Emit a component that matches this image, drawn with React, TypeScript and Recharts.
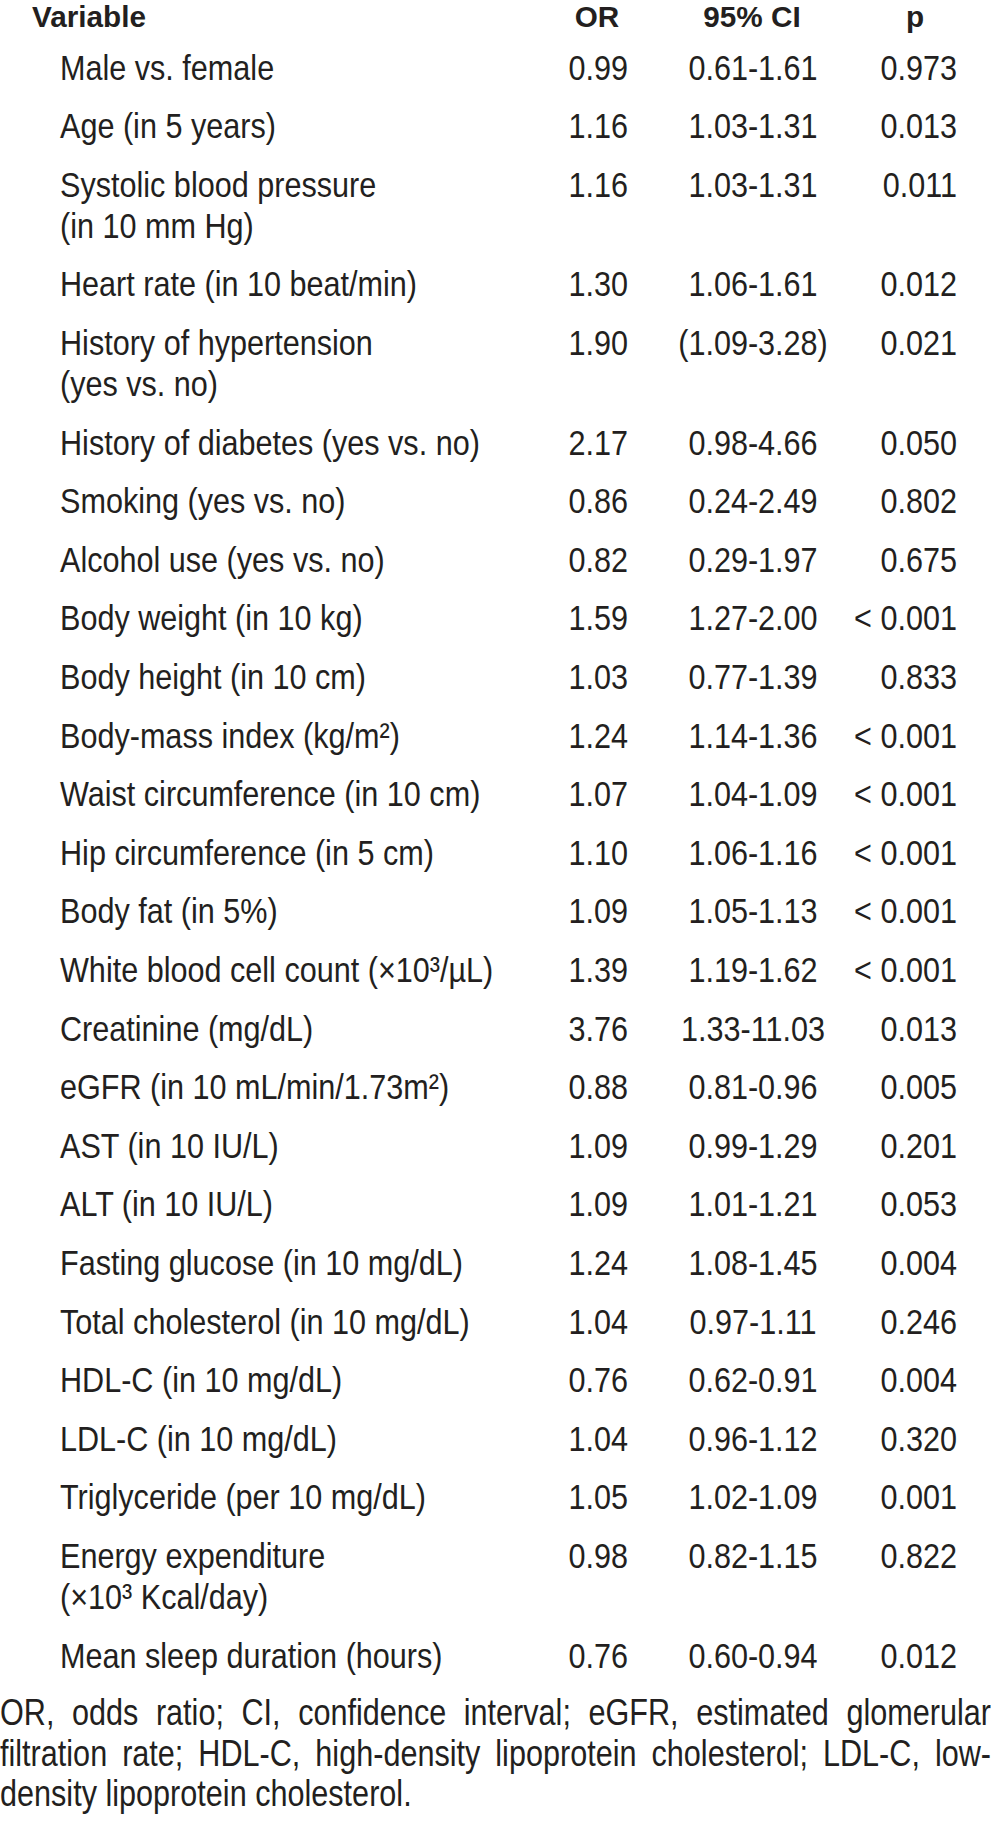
import { ScatterChart, Scatter, XAxis, YAxis } from "recharts";

const variables = [
  "Male vs. female",
  "Age (in 5 years)",
  "Systolic blood pressure\n(in 10 mm Hg)",
  "Heart rate (in 10 beat/min)",
  "History of hypertension\n(yes vs. no)",
  "History of diabetes (yes vs. no)",
  "Smoking (yes vs. no)",
  "Alcohol use (yes vs. no)",
  "Body weight (in 10 kg)",
  "Body height (in 10 cm)",
  "Body-mass index (kg/m²)",
  "Waist circumference (in 10 cm)",
  "Hip circumference (in 5 cm)",
  "Body fat (in 5%)",
  "White blood cell count (×10³/µL)",
  "Creatinine (mg/dL)",
  "eGFR (in 10 mL/min/1.73m²)",
  "AST (in 10 IU/L)",
  "ALT (in 10 IU/L)",
  "Fasting glucose (in 10 mg/dL)",
  "Total cholesterol (in 10 mg/dL)",
  "HDL-C (in 10 mg/dL)",
  "LDL-C (in 10 mg/dL)",
  "Triglyceride (per 10 mg/dL)",
  "Energy expenditure\n(×10³ Kcal/day)",
  "Mean sleep duration (hours)",
];

const oddsRatios = [
  0.99, 1.16, 1.16, 1.3, 1.9, 2.17, 0.86, 0.82, 1.59, 1.03, 1.24, 1.07, 1.1,
  1.09, 1.39, 3.76, 0.88, 1.09, 1.09, 1.24, 1.04, 0.76, 1.04, 1.05, 0.98, 0.76,
];

const ciLabels = [
  "0.61-1.61", "1.03-1.31", "1.03-1.31", "1.06-1.61", "(1.09-3.28)",
  "0.98-4.66", "0.24-2.49", "0.29-1.97", "1.27-2.00", "0.77-1.39",
  "1.14-1.36", "1.04-1.09", "1.06-1.16", "1.05-1.13", "1.19-1.62",
  "1.33-11.03", "0.81-0.96", "0.99-1.29", "1.01-1.21", "1.08-1.45",
  "0.97-1.11", "0.62-0.91", "0.96-1.12", "1.02-1.09", "0.82-1.15",
  "0.60-0.94",
];

const pValues = [
  "0.973", "0.013", "0.011", "0.012", "0.021", "0.050", "0.802", "0.675",
  "< 0.001", "0.833", "< 0.001", "< 0.001", "< 0.001", "< 0.001", "< 0.001",
  "0.013", "0.005", "0.201", "0.053", "0.004", "0.246", "0.004", "0.320",
  "0.001", "0.822", "0.012",
];

const headers = ["Variable", "OR", "95% CI", "p"];

const footnoteLines = [
  "OR, odds ratio; CI, confidence interval; eGFR, estimated glomerular",
  "filtration rate; HDL-C, high-density lipoprotein cholesterol; LDL-C, low-",
  "density lipoprotein cholesterol.",
];

// layout
const UNIT = 58.6; // px per row
const EXTRA_LINE = 0.7; // second line of a label, in rows
const Y_MIN = -1;
const Y_MAX = 27.5;
const TOP = 8;
const HEIGHT = TOP + (Y_MAX - Y_MIN) * UNIT;
const SQUEEZE = 0.85;
const INK = "#231f20";
const FONT = "'Liberation Sans', Arial, Helvetica, sans-serif";

let acc = 0;
const rows = variables.map((v, i) => {
  const lines = v.split("\n");
  const row = {
    x: 0,
    y: acc,
    lines,
    or: oddsRatios[i].toFixed(2),
    ci: ciLabels[i],
    p: pValues[i],
  };
  acc += 1 + EXTRA_LINE * (lines.length - 1);
  return row;
});

const headerRow = [{ x: 0, y: -0.84 }];

function Cell({ x, y, anchor, children, size = 36, bold = false, squeeze = SQUEEZE }: any) {
  return (
    <text
      transform={`translate(${x},${y}) scale(${squeeze},1)`}
      textAnchor={anchor}
      fontSize={size}
      fontWeight={bold ? 700 : 400}
      fontFamily={FONT}
      fill={INK}
    >
      {children}
    </text>
  );
}

function RowShape(props: any) {
  const { cx, cy, payload } = props;
  const base = cy + 13;
  return (
    <g>
      {payload.lines.map((l: string, k: number) => (
        <Cell key={k} x={cx + 60} y={base + k * EXTRA_LINE * UNIT} anchor="start">
          {l}
        </Cell>
      ))}
      <Cell x={cx + 628} y={base} anchor="end">{payload.or}</Cell>
      <Cell x={cx + 753} y={base} anchor="middle">{payload.ci}</Cell>
      <Cell x={cx + 957} y={base} anchor="end">{payload.p}</Cell>
    </g>
  );
}

function HeaderShape(props: any) {
  const { cx, cy } = props;
  const base = cy + 10;
  return (
    <g>
      <Cell x={cx + 32} y={base} anchor="start" size={30} bold squeeze={0.99}>{headers[0]}</Cell>
      <Cell x={cx + 597} y={base} anchor="middle" size={30} bold squeeze={0.99}>{headers[1]}</Cell>
      <Cell x={cx + 752} y={base} anchor="middle" size={30} bold squeeze={0.99}>{headers[2]}</Cell>
      <Cell x={cx + 915} y={base} anchor="middle" size={30} bold squeeze={0.99}>{headers[3]}</Cell>
    </g>
  );
}

export default function App() {
  return (
    <div style={{ width: 991, background: "#fff" }}>
      <style>{"body{margin:0;background:#fff}"}</style>
      <ScatterChart
        width={991}
        height={HEIGHT}
        margin={{ top: TOP, right: 0, bottom: 0, left: 0 }}
      >
        <XAxis type="number" dataKey="x" domain={[0, 1]} hide />
        <YAxis type="number" dataKey="y" domain={[Y_MIN, Y_MAX]} reversed hide />
        <Scatter data={headerRow} shape={HeaderShape} isAnimationActive={false} />
        <Scatter data={rows} shape={RowShape} isAnimationActive={false} />
      </ScatterChart>
      <div style={{ width: 991, overflow: "hidden", marginTop: 15 }}>
        <div
          style={{
            width: 991 / SQUEEZE,
            transform: `scale(${SQUEEZE},1)`,
            transformOrigin: "0 0",
            fontFamily: FONT,
            fontSize: 36,
            lineHeight: "40.5px",
            color: INK,
          }}
        >
          {footnoteLines.map((l, i) => (
            <div
              key={i}
              style={{
                textAlign: "justify",
                textAlignLast: i < footnoteLines.length - 1 ? "justify" : "left",
                whiteSpace: "nowrap",
              }}
            >
              {l}
            </div>
          ))}
        </div>
      </div>
    </div>
  );
}
